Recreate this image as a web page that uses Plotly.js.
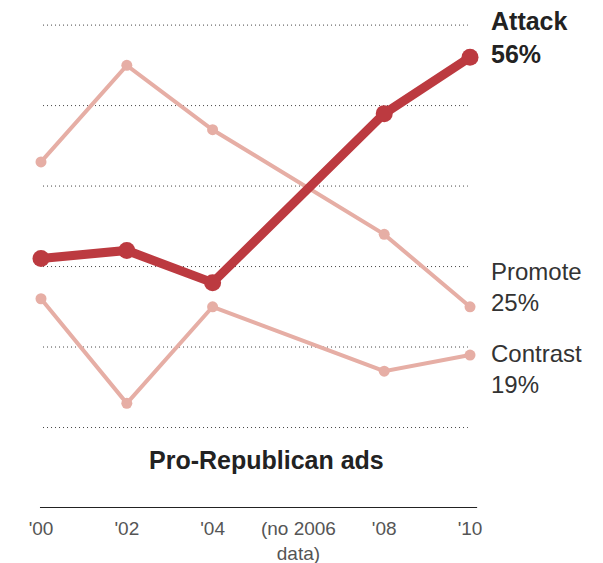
<!DOCTYPE html>
<html>
<head>
<meta charset="utf-8">
<script src="https://cdn.plot.ly/plotly-3.0.1.min.js"></script>
<style>html,body{margin:0;padding:0;background:#fff;}#chart{width:603px;height:563px;}</style>
</head>
<body>
<div id="chart"></div>
<script>
const years = [2000, 2002, 2004, 2008, 2010];
const tickYears = [2000, 2002, 2004, 2006, 2008, 2010];
const tickLabels = ["'00", "'02", "'04", "(no 2006<br>data)", "'08", "'10"];
const attack = [31, 32, 28, 49, 56];
const promote = [43, 55, 47, 34, 25];
const contrast = [26, 13, 25, 17, 19];
const gridVals = [10, 20, 30, 40, 50, 60];
const chartTitle = "Pro-Republican ads";

const dark = '#bc3a40';
const light = '#e6aea5';
const FONT = 'Liberation Sans, Arial, sans-serif';

function lineTrace(y, color, w, ms) {
  return {x: years, y: y, type: 'scatter', mode: 'lines+markers',
    line: {color: color, width: w}, marker: {color: color, size: ms},
    cliponaxis: false, hoverinfo: 'skip', showlegend: false};
}

const traces = [
  lineTrace(promote, light, 4, 11),
  lineTrace(contrast, light, 4, 11),
  lineTrace(attack, dark, 9, 17)
];

const last = a => a[a.length - 1];
const lastYear = last(years);

const shapes = gridVals.map(v => ({type: 'line', xref: 'paper', yref: 'y',
  x0: 0.0114, x1: 0.977, y0: v, y1: v, layer: 'below',
  line: {color: '#444', width: 1, dash: '1px,3px'}}));
shapes.push({type: 'line', xref: 'paper', yref: 'y', x0: 0.0045, x1: 0.998, y0: 0, y1: 0,
  line: {color: '#222', width: 2}});

const layout = {
  width: 603, height: 563,
  margin: {l: 38, r: 125, t: 9, b: 55},
  paper_bgcolor: '#fff', plot_bgcolor: '#fff',
  font: {family: FONT, color: '#333'},
  xaxis: {range: [1999.930, 2010.186], tickvals: tickYears, ticktext: tickLabels,
    showgrid: false, zeroline: false, showline: false, ticks: '',
    tickfont: {size: 19, color: '#555', family: FONT}, ticklabelstandoff: 7},
  yaxis: {range: [0, 62], tickvals: gridVals, showticklabels: false,
    showgrid: false, zeroline: false, showline: false, ticks: ''},
  shapes: shapes,
  annotations: [
    {x: 0.520, y: 0.097, xref: 'paper', yref: 'paper', text: '<b>' + chartTitle + '</b>',
      showarrow: false, font: {size: 25, color: '#222', family: FONT}, xanchor: 'center', yanchor: 'middle'},
    {x: lastYear, y: last(attack), xref: 'x', yref: 'y', xshift: 19, yshift: 20,
      text: '<b>Attack</b><br><b>' + last(attack) + '%</b>', align: 'left', showarrow: false,
      xanchor: 'left', yanchor: 'middle', font: {size: 25, color: '#222', family: FONT}},
    {x: lastYear, y: last(promote), xref: 'x', yref: 'y', xshift: 19, yshift: 20,
      text: 'Promote<br>' + last(promote) + '%', align: 'left', showarrow: false,
      xanchor: 'left', yanchor: 'middle', font: {size: 24, color: '#333', family: FONT}},
    {x: lastYear, y: last(contrast), xref: 'x', yref: 'y', xshift: 19, yshift: -14,
      text: 'Contrast<br>' + last(contrast) + '%', align: 'left', showarrow: false,
      xanchor: 'left', yanchor: 'middle', font: {size: 24, color: '#333', family: FONT}}
  ]
};

Plotly.newPlot('chart', traces, layout, {displayModeBar: false, staticPlot: true});
</script>
</body>
</html>
